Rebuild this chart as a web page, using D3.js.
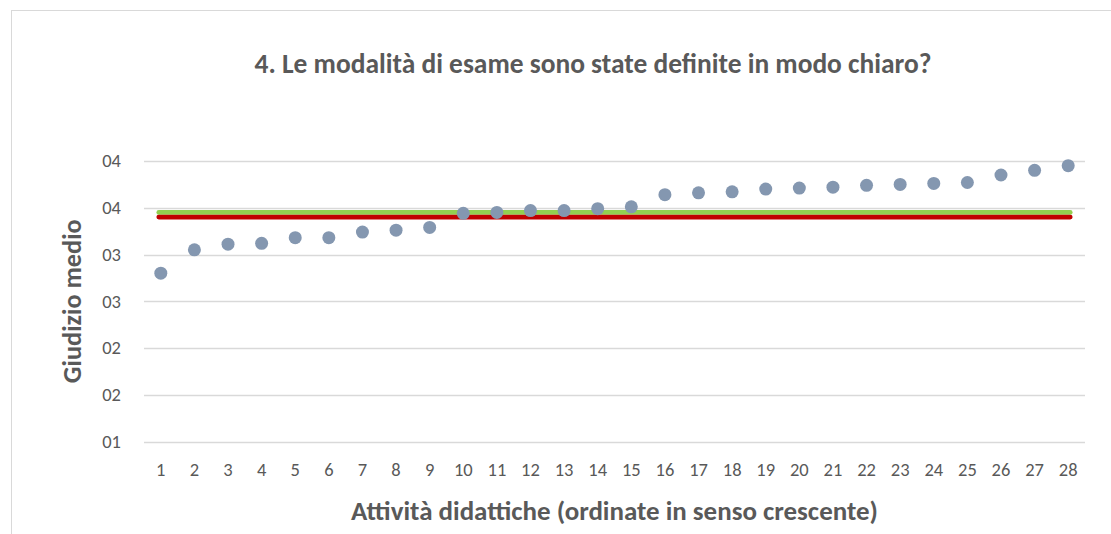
<!DOCTYPE html>
<html>
<head>
<meta charset="utf-8">
<script src="https://cdn.jsdelivr.net/npm/d3@7"></script>
<style>
  body { margin: 0; background: #fff; }
  text { font-family: Carlito, Calibri, "Liberation Sans", sans-serif; }
</style>
</head>
<body>
<div id="chart"></div>
<script>
// Dati
const attivita = d3.range(1, 29).map(String);
const giudizi = [2.80, 3.05, 3.11, 3.12, 3.18, 3.18, 3.24, 3.26, 3.29, 3.44,
                 3.45, 3.47, 3.47, 3.49, 3.51, 3.64, 3.66, 3.67, 3.70, 3.71,
                 3.72, 3.74, 3.75, 3.76, 3.77, 3.85, 3.90, 3.95];
const mediaVerde = 3.45;
const mediaRossa = 3.40;
const yTicks = [1, 1.5, 2, 2.5, 3, 3.5, 4];

const W = 1111, H = 534;
const margin = { top: 161, right: 26, bottom: 92.5, left: 144 };
const width = W - margin.left - margin.right;
const height = H - margin.top - margin.bottom;

const root = d3.select("#chart").append("svg")
  .attr("width", W).attr("height", H);

// bordo del grafico
root.append("rect")
  .attr("x", 11.5).attr("y", 10.5)
  .attr("width", W).attr("height", H)
  .attr("fill", "none").attr("stroke", "#d9d9d9");

const svg = root.append("g")
  .attr("transform", `translate(${margin.left}, ${margin.top})`);

const x = d3.scaleBand().domain(attivita).range([0, width]);
const y = d3.scaleLinear().domain([1, 4]).range([height, 0]);

// restringe il testo fino alla larghezza voluta
function fit(sel, target) {
  const node = sel.node();
  const fs = parseFloat(sel.style("font-size"));
  const w = node.getComputedTextLength();
  if (w > 0) sel.style("font-size", (fs * target / w) + "px");
}

// griglia
svg.append("g")
  .selectAll("line")
  .data(yTicks)
  .enter().append("line")
  .attr("x1", 0).attr("x2", width)
  .attr("y1", d => Math.round(y(d)) + 0.5)
  .attr("y2", d => Math.round(y(d)) + 0.5)
  .attr("stroke", "#d9d9d9")
  .attr("stroke-width", 1.5);

// asse y (formato "00" come in Excel: arrotonda all'intero)
const yAxis = svg.append("g")
  .call(d3.axisLeft(y).tickValues(yTicks).tickSize(0).tickPadding(23)
    .tickFormat(d => String(Math.floor(d + 0.5)).padStart(2, "0")));
yAxis.select(".domain").remove();
yAxis.selectAll("text")
  .style("font-size", "18.5px")
  .style("fill", "#595959");

// asse x
const xAxis = svg.append("g")
  .attr("transform", `translate(0, ${height})`)
  .call(d3.axisBottom(x).tickSize(0).tickPadding(21));
xAxis.select(".domain").remove();
xAxis.selectAll("text")
  .style("font-size", "18.5px")
  .style("fill", "#595959");

// linee di riferimento
const cx = d => x(d) + x.bandwidth() / 2;
[[mediaVerde, "#92d050"], [mediaRossa, "#c00000"]].forEach(([v, c]) => {
  svg.append("line")
    .attr("x1", cx(attivita[0]) - 2)
    .attr("x2", cx(attivita[attivita.length - 1]) + 2)
    .attr("y1", y(v)).attr("y2", y(v))
    .attr("stroke", c)
    .attr("stroke-width", 4.8)
    .attr("stroke-linecap", "round");
});

// punti
svg.selectAll(".dot")
  .data(giudizi)
  .enter().append("circle")
  .attr("class", "dot")
  .attr("cx", (d, i) => cx(attivita[i]))
  .attr("cy", d => y(d))
  .attr("r", 6.5)
  .attr("fill", "#8497b0");

// titolo
const title = root.append("text")
  .attr("x", 593).attr("y", 73)
  .attr("text-anchor", "middle")
  .style("font-size", "18px")
  .style("font-weight", "bold")
  .style("fill", "#595959")
  .text("4. Le modalità di esame sono state definite in modo chiaro?");
fit(title, 677);

// titolo asse x
const xt = root.append("text")
  .attr("x", margin.left + width / 2).attr("y", 520)
  .attr("text-anchor", "middle")
  .style("font-size", "19px")
  .style("font-weight", "bold")
  .style("fill", "#595959")
  .text("Attività didattiche (ordinate in senso crescente)");
fit(xt, 527);

// titolo asse y
const yt = root.append("text")
  .attr("transform", `translate(81, ${margin.top + height / 2}) rotate(-90)`)
  .attr("text-anchor", "middle")
  .style("font-size", "19px")
  .style("font-weight", "bold")
  .style("fill", "#595959")
  .text("Giudizio medio");
fit(yt, 164);
</script>
</body>
</html>
